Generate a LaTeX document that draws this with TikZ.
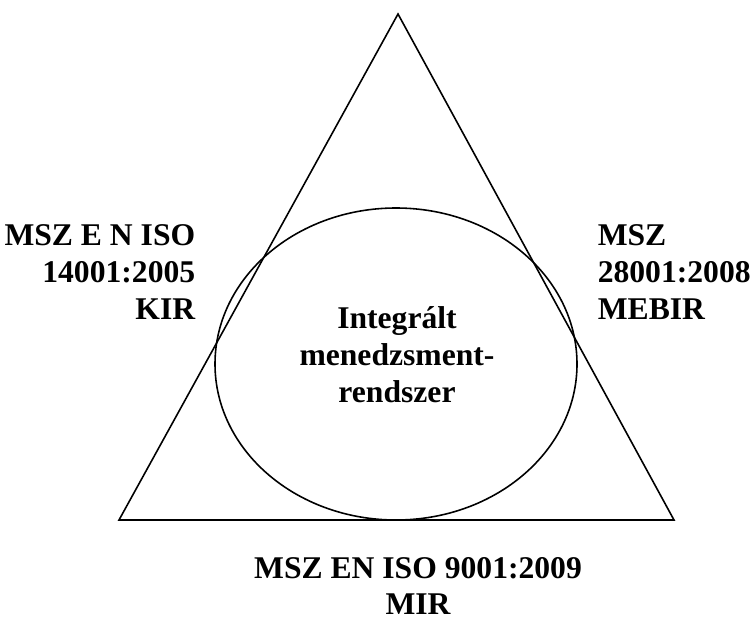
\documentclass[tikz,border=0pt]{standalone}
\usepackage{fontspec}
\setmainfont{Liberation Serif}
\usepackage{tikz}
\usepackage{xcolor}
\usetikzlibrary{positioning, calc}

\begin{document}
\begin{tikzpicture}[x=0.02cm, y=-0.02cm, line width=0.9pt,
    label/.style={font=\bfseries\fontsize{18}{21}\selectfont, inner sep=0pt}]
    \useasboundingbox (0,0) rectangle (753,621);

    % Triangle
    \coordinate (apex) at (398,14);
    \coordinate (left) at (119,520);
    \coordinate (right) at (674,520);
    \draw (apex) -- (right) -- (left) -- cycle;

    % Integrated system
    \draw (396,364) ellipse [x radius=181, y radius=156];
    \node[label, align=center] (ims) at (397,355) {Integrált\\menedzsment-\\rendszer};

    % Standards
    \node[label, align=right, anchor=east] (kir) at (196,272) {MSZ E N ISO\\14001:2005\\KIR};
    \node[label, align=left, anchor=west] (mebir) at (597,272) {MSZ\\28001:2008\\MEBIR};
    \node[label, align=center] (mir) at (418,586) {MSZ EN ISO 9001:2009\\MIR};
\end{tikzpicture}
\end{document}
